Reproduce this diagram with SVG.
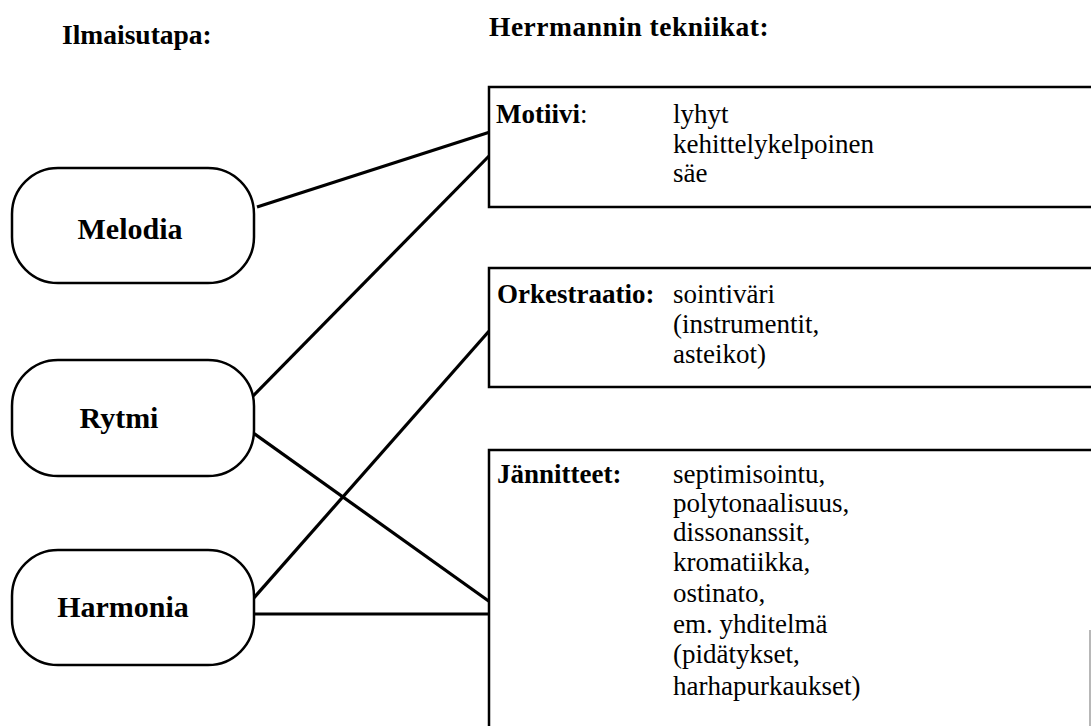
<svg xmlns="http://www.w3.org/2000/svg" width="1091" height="726" viewBox="0 0 1091 726">
<style>
.t{font-family:"Liberation Serif","Times New Roman",serif;fill:#000}
.title{font-size:27.5px;font-weight:bold}
.node{fill:#fff;stroke:#000;stroke-width:2.5}
.nl{font-size:30px;font-weight:bold}
.box{fill:#fff;stroke:#000;stroke-width:2.5}
.lb{font-size:27px;font-weight:bold}
.tx{font-size:27px}
.conn line{stroke:#000;stroke-width:3.2;stroke-linecap:butt}
</style>
<rect width="1091" height="726" fill="#fff"/>
<text class="t title" x="62" y="44">Ilmaisutapa:</text>
<text class="t title" x="489" y="36" font-size="29" letter-spacing="0.5">Herrmannin tekniikat:</text>

<g id="conn" class="conn">
<line x1="257" y1="207" x2="490" y2="132"/>
<line x1="252" y1="397" x2="490" y2="155"/>
<line x1="252" y1="432" x2="490" y2="602"/>
<line x1="252" y1="600" x2="490" y2="330"/>
<line x1="254" y1="614" x2="490" y2="614"/>
</g>

<g id="melodia">
<rect class="node" x="12" y="168" width="242" height="115" rx="46" ry="46"/>
<text class="t nl" x="130" y="239" text-anchor="middle">Melodia</text>
</g>
<g id="rytmi">
<rect class="node" x="12" y="360" width="242" height="116" rx="46" ry="46"/>
<text class="t nl" x="119" y="428" text-anchor="middle">Rytmi</text>
</g>
<g id="harmonia">
<rect class="node" x="12" y="550" width="242" height="115" rx="46" ry="46"/>
<text class="t nl" x="123" y="617" text-anchor="middle">Harmonia</text>
</g>

<g id="motiivi">
<rect class="box" x="489" y="87" width="620" height="120"/>
<text class="t lb" x="496" y="123">Motiivi<tspan font-weight="normal">:</tspan></text>
<text class="t tx" x="673" y="123">lyhyt</text>
<text class="t tx" x="673" y="152.5">kehittelykelpoinen</text>
<text class="t tx" x="673" y="182">säe</text>
</g>
<g id="orkestraatio">
<rect class="box" x="489" y="268" width="620" height="119"/>
<text class="t lb" x="497" y="303">Orkestraatio:</text>
<text class="t tx" x="673" y="303">sointiväri</text>
<text class="t tx" x="673" y="333">(instrumentit,</text>
<text class="t tx" x="673" y="363">asteikot)</text>
</g>
<g id="jannitteet">
<rect class="box" x="489" y="450" width="620" height="300"/>
<line x1="1090" y1="630" x2="1090" y2="726" stroke="#888" stroke-width="1.2"/>
<text class="t lb" x="497" y="483">Jännitteet:</text>
<text class="t tx" x="673" y="483">septimisointu,</text>
<text class="t tx" x="673" y="512">polytonaalisuus,</text>
<text class="t tx" x="673" y="541">dissonanssit,</text>
<text class="t tx" x="673" y="571">kromatiikka,</text>
<text class="t tx" x="673" y="602">ostinato,</text>
<text class="t tx" x="673" y="633">em. yhditelmä</text>
<text class="t tx" x="673" y="663">(pidätykset,</text>
<text class="t tx" x="673" y="695">harhapurkaukset)</text>
</g>
</svg>
